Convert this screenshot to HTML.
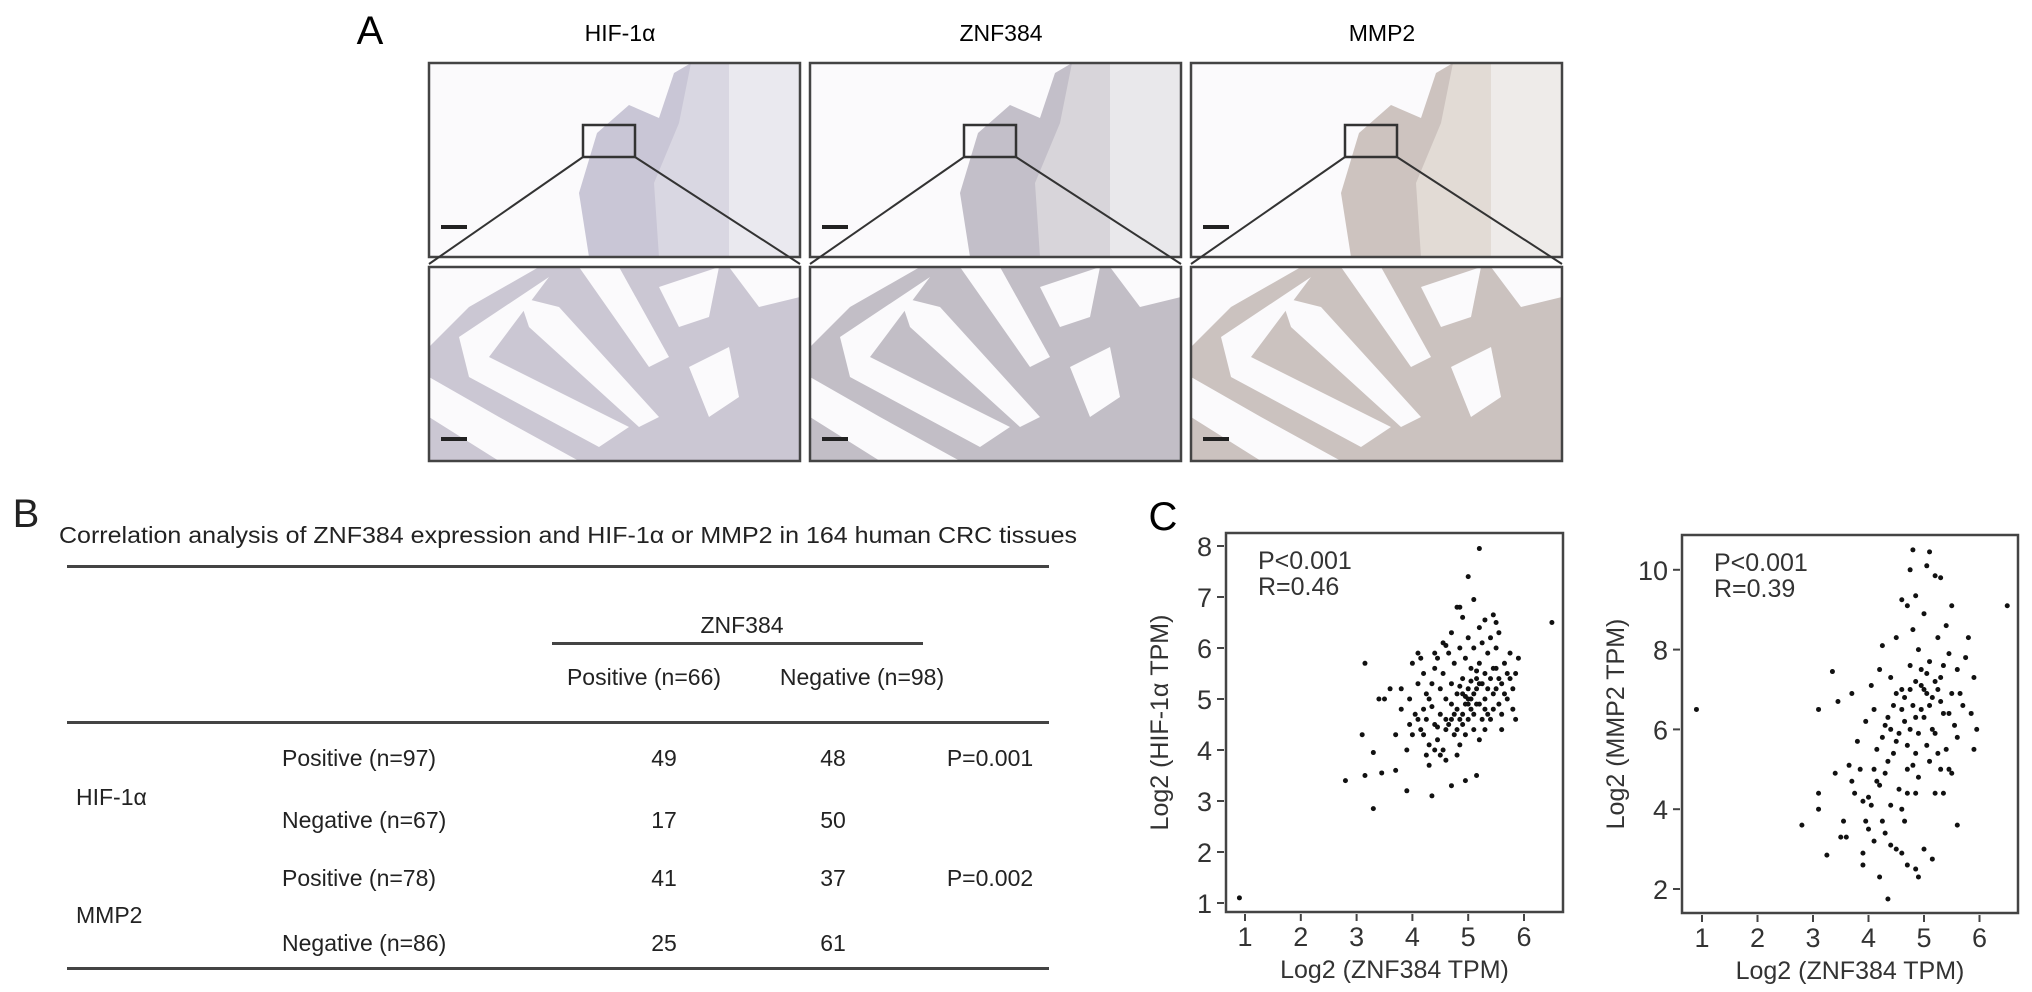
<!DOCTYPE html>
<html><head><meta charset="utf-8"><style>
html,body{margin:0;padding:0;background:#fff;}
svg{display:block;font-family:"Liberation Sans",sans-serif;}
</style></head><body>
<svg id="fig" width="2032" height="992" viewBox="0 0 2032 992" xmlns="http://www.w3.org/2000/svg">
<defs>
<clipPath id="cp1"><rect x="429" y="267" width="371" height="194"/></clipPath>
<clipPath id="cp2"><rect x="810" y="267" width="371" height="194"/></clipPath>
<clipPath id="cp3"><rect x="1191" y="267" width="371" height="194"/></clipPath>
</defs>
<text x="370" y="44" font-size="40" text-anchor="middle">A</text>
<g id="panelA"></g>

<g font-size="23" fill="#222">
<text x="26" y="527" font-size="40" text-anchor="middle">B</text>
<text x="59" y="543" textLength="1018" lengthAdjust="spacingAndGlyphs">Correlation analysis of ZNF384 expression and HIF-1α or MMP2 in 164 human CRC tissues</text>
<rect x="67" y="565" width="982" height="3" fill="#444"/>
<text x="742" y="633" text-anchor="middle">ZNF384</text>
<rect x="552" y="642" width="371" height="3" fill="#444"/>
<text x="644" y="685" text-anchor="middle">Positive (n=66)</text>
<text x="862" y="685" text-anchor="middle">Negative (n=98)</text>
<rect x="67" y="721" width="982" height="3" fill="#444"/>
<text x="76" y="805">HIF-1α</text>
<text x="76" y="923">MMP2</text>
<text x="282" y="766">Positive (n=97)</text>
<text x="282" y="828">Negative (n=67)</text>
<text x="282" y="886">Positive (n=78)</text>
<text x="282" y="951">Negative (n=86)</text>
<g text-anchor="middle">
<text x="664" y="766">49</text>
<text x="833" y="766">48</text>
<text x="990" y="766">P=0.001</text>
<text x="664" y="828">17</text>
<text x="833" y="828">50</text>
<text x="664" y="886">41</text>
<text x="833" y="886">37</text>
<text x="990" y="886">P=0.002</text>
<text x="664" y="951">25</text>
<text x="833" y="951">61</text>
</g>
<rect x="67" y="967" width="982" height="3" fill="#444"/>
</g>

<text x="1163" y="530" font-size="40" text-anchor="middle">C</text>
<g id="plot1"></g>
<g id="plot2"></g>
</svg>
<script>
const hifX=[0.9,6.5,5.2,5.0,5.1,2.8,3.3,3.15,3.1,3.15,3.3,3.45,3.9,4.35,4.7,4.95,5.15,3.7,3.7,3.9,3.6,3.5,3.4,3.8,4.0,4.1,4.6,4.8,4.85,5.45,5.5,5.3,5.9,5.85,5.8,5.85,5.6,
4.2,4.3,4.25,4.3,4.4,4.5,4.45,4.6,4.55,4.7,4.75,4.8,4.85,4.9,4.95,5.0,5.05,5.1,5.15,5.2,5.25,5.3,5.35,5.4,5.45,5.5,5.55,5.6,5.65,5.7,5.75,5.8,4.3,4.35,4.4,4.45,4.5,4.55,4.6,4.65,4.7,4.75,4.8,4.85,4.9,4.95,5.0,5.05,5.1,5.15,5.2,5.25,5.3,5.35,5.4,5.45,5.5,5.55,4.2,4.25,4.1,4.15,4.0,4.05,3.95,4.1,4.2,4.6,4.7,4.8,4.9,5.0,5.1,5.2,5.3,5.0,4.9,5.05,4.75,4.65,4.85,5.15,5.25,5.35,5.45,5.55,5.4,4.5,4.6,4.8,4.4,4.95,5.1,5.2,5.3,5.6,5.7,5.65,4.7,4.9,5.0,5.2,4.55,4.4,3.95,3.8,4.15,4.25,4.35,4.45,5.5,5.75,5.05,4.95,4.85,5.15];
const hifY=[1.1,6.5,7.95,7.4,6.95,3.4,2.85,5.7,4.3,3.5,3.95,3.55,3.2,3.1,3.3,3.4,3.5,4.3,3.6,4.0,5.2,5.0,5.0,5.2,5.7,5.9,6.05,6.8,6.8,6.65,6.5,6.55,5.8,5.5,4.8,4.6,4.4,
4.3,4.1,3.9,3.7,4.5,4.7,4.2,4.4,4.0,4.6,4.3,4.8,4.1,4.5,4.9,4.6,5.0,4.7,5.2,4.9,5.3,5.0,4.7,5.4,5.1,5.6,4.9,5.3,5.7,5.5,5.9,5.2,5.0,5.3,5.6,5.8,5.2,5.5,5.0,5.9,5.3,5.7,5.1,6.0,5.4,5.8,5.2,5.6,6.0,5.4,5.7,6.1,5.5,5.9,6.2,5.6,6.0,6.3,4.8,5.1,4.6,4.4,4.3,4.7,4.5,5.3,5.5,4.6,4.9,4.4,4.7,4.9,5.1,5.3,4.8,5.0,5.1,4.8,4.7,4.5,4.6,4.9,4.6,5.2,4.8,5.4,4.6,3.9,3.8,3.9,4.0,4.3,4.4,4.2,4.4,4.7,5.0,5.1,6.3,6.6,6.2,6.4,6.1,5.9,5.0,4.8,5.8,4.6,4.85,4.45,5.2,5.4,5.35,5.05,5.25,5.55];
const mmpX=[0.9,6.5,2.8,3.1,3.1,3.1,3.25,3.35,3.4,3.45,3.5,3.55,3.7,3.7,3.9,3.9,4.2,4.35,4.4,4.6,4.7,4.9,4.85,5.0,5.15,5.6,4.8,5.1,4.75,5.05,5.2,5.3,4.6,4.85,4.7,5.5,5.9,5.95,5.9,5.85,
4.0,4.1,4.15,4.2,4.25,4.3,4.35,4.4,4.45,4.5,4.55,4.6,4.65,4.7,4.75,4.8,4.85,4.9,4.95,5.0,5.05,5.1,5.15,5.2,5.25,5.3,5.35,5.4,5.45,5.5,5.55,5.6,3.8,3.85,3.9,3.95,4.0,4.05,4.1,4.2,4.25,4.3,4.4,4.5,4.6,4.7,4.8,4.9,5.0,5.1,5.2,5.3,5.4,5.5,5.6,5.7,5.75,5.8,5.65,4.55,4.65,4.75,4.85,4.95,5.05,5.15,5.25,5.35,5.45,4.45,4.35,4.25,4.15,4.05,3.95,3.75,3.65,3.6,4.7,4.8,4.9,5.0,5.1,5.2,5.3,4.6,4.75,4.85,4.95,5.05,4.5,4.4,5.25,5.35,4.3,4.5,4.65,4.85,4.1,5.45];
const mmpY=[6.5,9.1,3.6,4.4,4.0,6.5,2.85,7.45,4.9,6.7,3.3,3.7,6.9,4.7,2.6,2.9,2.3,1.75,3.1,2.9,2.6,2.3,2.5,3.0,2.75,3.6,10.5,10.45,10.0,10.1,9.85,9.8,9.25,9.35,9.1,9.1,7.3,6.0,5.5,6.4,
4.3,5.0,5.5,4.6,3.7,6.1,5.2,4.1,6.6,5.7,4.5,7.0,6.2,5.0,7.6,6.6,5.4,8.0,7.1,6.3,5.6,7.7,6.8,5.9,8.3,7.3,6.4,5.5,7.9,6.9,6.1,7.5,5.7,5.0,4.2,6.2,3.5,7.1,6.5,7.5,8.1,4.9,7.3,8.3,4.0,4.4,8.5,4.8,8.9,5.2,4.4,5.0,8.6,4.9,5.8,6.6,7.8,8.3,6.9,5.9,6.8,6.0,7.2,6.5,7.4,6.0,7.0,7.6,6.4,5.4,6.3,5.8,4.7,4.1,3.7,4.4,5.1,3.3,5.6,5.1,5.9,7.0,6.6,7.2,6.7,6.5,7.0,6.3,7.5,6.9,6.9,6.0,5.4,4.4,3.4,3.0,3.7,4.4,3.2,5.0];
const hifYTicks=[1,2,3,4,5,6,7,8];
const mmpYTicks=[2,4,6,8,10];
const xTicks=[1,2,3,4,5,6];
const ns="http://www.w3.org/2000/svg";
function mk(tag,attrs,parent){const e=document.createElementNS(ns,tag);for(const k in attrs)e.setAttribute(k,attrs[k]);parent.appendChild(e);return e;}

const A=document.getElementById('panelA');
const cols=[{x:429,t:'HIF-1α',top:'#d9d7e2',tis:'#c9c6d6',bot:'#cbc7d3',n:'hif1a'},{x:810,t:'ZNF384',top:'#d8d5da',tis:'#c3bfc9',bot:'#c2bec6',n:'znf384'},{x:1191,t:'MMP2',top:'#e2dbd5',tis:'#cdc3bf',bot:'#cbc2bf',n:'mmp2'}];
cols.forEach((c,i)=>{
  const g=mk('g',{},A);
  
  
  const t=mk('text',{x:c.x+191,y:41,'font-size':23,'text-anchor':'middle'},g);t.textContent=c.t;
  
  
  mk('rect',{x:c.x,y:63,width:371,height:194,fill:'#fbfafc'},g);
  mk('polygon',{points:[[300,0],[371,0],[371,194],[300,194]].map(p=>(c.x+p[0])+','+(63+p[1])).join(' '),fill:c.top,opacity:0.5},g);
  mk('polygon',{points:[[160,194],[150,130],[168,70],[200,42],[230,55],[245,10],[262,0],[300,0],[300,194]].map(p=>(c.x+p[0])+','+(63+p[1])).join(' '),fill:c.tis},g);
  mk('polygon',{points:[[230,194],[225,120],[250,60],[262,0],[300,0],[300,194]].map(p=>(c.x+p[0])+','+(63+p[1])).join(' '),fill:c.top},g);
  mk('rect',{x:c.x,y:63,width:371,height:194,fill:'none',stroke:'#444','stroke-width':2.5},g);
  mk('rect',{x:c.x+154,y:125,width:52,height:32,fill:'none',stroke:'#333','stroke-width':2.5},g);
  mk('rect',{x:c.x+12,y:225,width:26,height:4,fill:'#222'},g);
  mk('line',{x1:c.x+154,y1:157,x2:c.x,y2:264,stroke:'#333','stroke-width':2},g);
  mk('line',{x1:c.x+206,y1:157,x2:c.x+371,y2:264,stroke:'#333','stroke-width':2},g);
  const gb=mk('g',{'clip-path':'url(#cp'+(i+1)+')'},g);
  mk('rect',{x:c.x,y:267,width:371,height:194,fill:c.bot},gb);
  const whites=[[[0,0],[110,0],[40,40],[0,80]],[[0,110],[70,150],[150,194],[70,194],[0,150]],[[30,70],[120,10],[60,90],[200,160],[170,180],[40,110]],[[150,0],[190,0],[240,90],[220,100]],[[230,20],[290,0],[280,50],[250,60]],[[260,100],[300,80],[310,130],[280,150]],[[90,30],[130,40],[230,150],[210,160],[100,60]],[[300,0],[371,0],[371,30],[330,40]]];
  whites.forEach(w=>mk('polygon',{points:w.map(p=>(c.x+p[0])+','+(267+p[1])).join(' '),fill:'#fbfafc'},gb));
  mk('rect',{x:c.x,y:267,width:371,height:194,fill:'none',stroke:'#444','stroke-width':2.5},g);
  mk('rect',{x:c.x+12,y:437,width:26,height:4,fill:'#222'},g);
});

function plot(gid,xs,ys,box,xs2px,ys2px,yticks,ytitle,pStr,rStr,nm){
  const g=document.getElementById(gid);
  mk('rect',{x:box.l,y:box.t,width:box.r-box.l,height:box.b-box.t,fill:'none',stroke:'#444','stroke-width':2.5},g);
  yticks.forEach(v=>{
    const y=ys2px(v);
    const l=mk('line',{x1:box.l-9,y1:y,x2:box.l-2,y2:y,stroke:'#444','stroke-width':2},g);
    
    
    const t=mk('text',{x:box.l-14,y:y+10,'font-size':27,'text-anchor':'end',fill:'#333'},g);t.textContent=v;
    
    
  });
  xTicks.forEach(v=>{
    const x=xs2px(v);
    const l=mk('line',{x1:x,y1:box.b+2,x2:x,y2:box.b+9,stroke:'#444','stroke-width':2},g);
    
    
    const t=mk('text',{x:x,y:box.b+34,'font-size':27,'text-anchor':'middle',fill:'#333'},g);t.textContent=v;
    
    
  });
  const xt=mk('text',{x:(box.l+box.r)/2,y:box.b+66,'font-size':25,'text-anchor':'middle',fill:'#333'},g);xt.textContent='Log2 (ZNF384 TPM)';
  
  
  const cy=(box.t+box.b)/2, tx=box.l-58;
  const yt=mk('text',{x:tx,y:cy,'font-size':25,'text-anchor':'middle',fill:'#333',transform:'rotate(-90 '+tx+' '+cy+')'},g);yt.textContent=ytitle;
  
  
  const p=mk('text',{x:box.l+32,y:box.t+36,'font-size':25,fill:'#333'},g);p.textContent=pStr;
  
  
  const r=mk('text',{x:box.l+32,y:box.t+62,'font-size':25,fill:'#333'},g);r.textContent=rStr;
  
  
  xs.forEach((xv,i)=>{
    const c=mk('circle',{cx:xs2px(xv),cy:ys2px(ys[i]),r:2.5,fill:'#111'},g);
    
    
  });
}
plot('plot1',hifX,hifY,{l:1226,r:1563,t:533,b:912},v=>1245+(v-1)*55.8,v=>546+(8-v)*51,hifYTicks,'Log2 (HIF-1α TPM)','P<0.001','R=0.46','hif1a');
plot('plot2',mmpX,mmpY,{l:1682,r:2018,t:535,b:913},v=>1702+(v-1)*55.5,v=>889-(v-2)*39.9,mmpYTicks,'Log2 (MMP2 TPM)','P<0.001','R=0.39','mmp2');
</script>
</body></html>
